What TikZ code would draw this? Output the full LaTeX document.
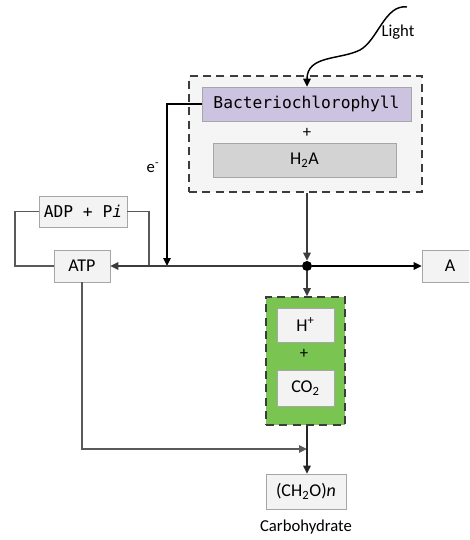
\documentclass[tikz,border=0pt]{standalone}
\usepackage{fontspec}
\setmainfont{Carlito}
\newfontfamily\monof{DejaVu Sans Mono}
\usetikzlibrary{arrows.meta}
\definecolor{lineC}{HTML}{3C3C3C}
\definecolor{thinC}{HTML}{5A5A5A}
\definecolor{boxB}{HTML}{A6A6A6}
\definecolor{boxF}{HTML}{F3F3F3}
\definecolor{bactF}{HTML}{CBC3E0}
\definecolor{hF}{HTML}{D3D3D3}
\definecolor{outerF}{HTML}{F5F5F5}
\definecolor{greenF}{HTML}{7AC552}
\begin{document}
\begin{tikzpicture}[x=0.75pt,y=-0.75pt,
  tip/.style={-{Triangle[length=6pt,width=5.5pt]}},
  box/.style={draw=boxB, fill=boxF, inner sep=0pt, font=\fontsize{13.5}{15}\selectfont},
  monobox/.style={box, font=\monof\fontsize{12.2}{14}\selectfont},
  mainline/.style={draw=lineC, line width=1.5pt},
  thinline/.style={draw=thinC, line width=1pt},
  dashbox/.style={draw=lineC, line width=1.2pt, dash pattern=on 6pt off 4pt, inner sep=0pt},
  lbl/.style={font=\fontsize{12.5}{14}\selectfont, inner sep=1pt}]
\useasboundingbox (0,0) rectangle (469,540);
\clip (0,0) rectangle (469,540);
% containers
\node[dashbox, fill=outerF, minimum width=174.75pt, minimum height=87pt] (outer) at (305.5,134) {};
\node[dashbox, fill=greenF, minimum width=59.25pt, minimum height=96pt] (green) at (305.5,361) {};
% boxes
\node[monobox, fill=bactF, minimum width=156.75pt, minimum height=25.5pt] (bact) at (306.5,104) {Bacteriochlorophyll};
\node[lbl] (plus1) at (307,133) {+};
\node[box, fill=hF, minimum width=137.25pt, minimum height=25.5pt] (h2a) at (304.5,160) {H\textsubscript{2}A};
\node[monobox, minimum width=66pt, minimum height=23.25pt] (adp) at (83,211.5) {ADP + P\textit{i}};
\node[box, minimum width=42pt, minimum height=24pt] (atp) at (82,266) {ATP};
\node[box, minimum width=42pt, minimum height=24pt] (abox) at (450,266) {A};
\node[box, minimum width=42.75pt, minimum height=25.5pt] (hplus) at (305.5,325) {H\textsuperscript{+}};
\node[lbl] (plus2) at (304,354) {+};
\node[box, minimum width=42.75pt, minimum height=27pt] (co2) at (305.5,388) {CO\textsubscript{2}};
\node[box, minimum width=60pt, minimum height=26.25pt] (ch2o) at (306,491.5) {(CH\textsubscript{2}O)\textit{n}};
\node[lbl] (carb) at (306,527) {Carbohydrate};
\node[lbl] (light) at (398,32) {Light};
\node[lbl] (elab) at (153,168) {e\textsuperscript{-}};
% junction
\node[circle, fill=black, inner sep=0pt, minimum size=7.5pt] (dot) at (307,266) {};
\coordinate (lightstart) at (407,7);
\coordinate (ejoin) at (167,266);
\coordinate (loopL) at (15,266);
\coordinate (loopR) at (149,266);
\coordinate (merge) at (307,449);
% connectors
\draw[black, line width=1.1pt, tip] (lightstart) .. controls (385,4) and (378,40) .. (360,50)
   .. controls (340,60) and (307,55) .. (bact.north -| dot);
\draw[black, line width=1.5pt, tip] (bact.west) -| (ejoin);
\draw[thinline] (adp.west) -| (loopL) -- (atp.west);
\draw[thinline] (adp.east) -| (loopR);
\draw[mainline, tip] (dot) -- (atp.east);
\draw[mainline, draw=black, tip] (dot) -- (abox.west);
\draw[mainline, tip] (outer.south -| dot) -- (dot);
\draw[mainline, tip] (dot) -- (green.north -| dot);
\draw[thinline, line width=1.3pt, tip] (atp.south) |- (merge);
\draw[mainline, draw=black!85, tip] (green.south -| dot) -- (ch2o.north -| dot);
\end{tikzpicture}
\end{document}
